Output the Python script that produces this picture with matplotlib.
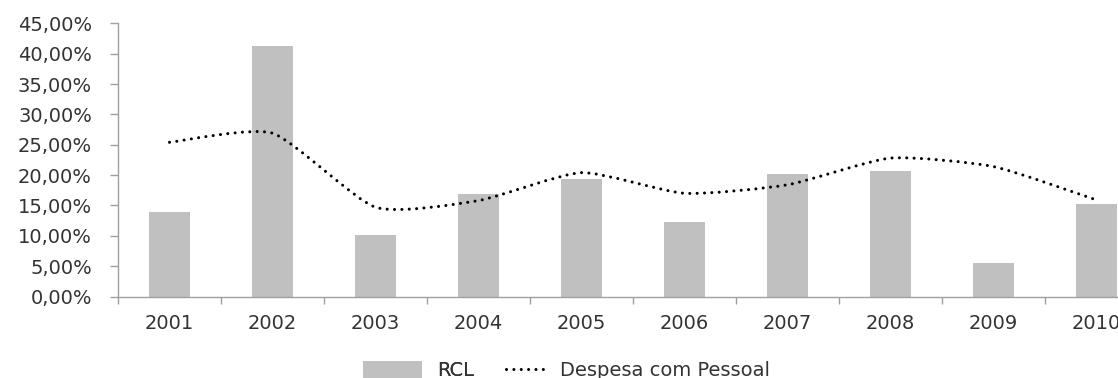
import matplotlib
matplotlib.use("Agg")
import matplotlib.pyplot as plt
from matplotlib.path import Path
from matplotlib.patches import PathPatch, Patch
from matplotlib.lines import Line2D
from matplotlib.ticker import FuncFormatter, FixedLocator, NullFormatter

plt.rcParams['font.family'] = ['DejaVu Sans']

# Annual growth rates (%)
years = ['2001', '2002', '2003', '2004', '2005', '2006', '2007', '2008', '2009', '2010']
rcl = [14.0, 41.2, 10.1, 16.9, 19.4, 12.2, 20.2, 20.7, 5.6, 15.2]
despesa_pessoal = [25.4, 26.9, 14.7, 15.8, 20.4, 17.0, 18.4, 22.8, 21.4, 15.9]

y_ticks = [0, 5, 10, 15, 20, 25, 30, 35, 40, 45]

BAR_COLOR = '#c0c0c0'
AXIS_COLOR = '#a0a0a0'
TEXT_COLOR = '#333333'
FS = 14

fig = plt.figure(figsize=(11.18, 3.78), dpi=100)
ax = fig.add_axes([118 / 1118, 81.5 / 378, 1030 / 1118, 273.2 / 378])

x = list(range(len(years)))
ax.bar(x, rcl, width=0.4, color=BAR_COLOR, zorder=2)


def smooth_path(xs, ys, tension=0.1):
    """Cubic Bezier path through the points with gently rounded corners."""
    n = len(xs)
    verts = [(xs[0], ys[0])]
    codes = [Path.MOVETO]
    for i in range(n - 1):
        i0 = max(i - 1, 0)
        i3 = min(i + 2, n - 1)
        c1 = (xs[i] + (xs[i + 1] - xs[i0]) * tension, ys[i] + (ys[i + 1] - ys[i0]) * tension)
        c2 = (xs[i + 1] - (xs[i3] - xs[i]) * tension, ys[i + 1] - (ys[i3] - ys[i]) * tension)
        verts += [c1, c2, (xs[i + 1], ys[i + 1])]
        codes += [Path.CURVE4] * 3
    return Path(verts, codes)


DOTS = (0, (0.01, 2.4))
line_patch = PathPatch(smooth_path(x, despesa_pessoal), fill=False, edgecolor='black',
                       linewidth=2.2, linestyle=DOTS, capstyle='round', zorder=3)
ax.add_patch(line_patch)

ax.set_xlim(-0.5, len(years) - 0.5)
ax.set_ylim(0, 45)

# category boundaries carry the tick marks, centres carry the labels
ax.xaxis.set_major_locator(FixedLocator([i - 0.5 for i in range(len(years) + 1)]))
ax.xaxis.set_major_formatter(NullFormatter())
ax.xaxis.set_minor_locator(FixedLocator(x))
ax.set_xticklabels(years, minor=True)
ax.tick_params(axis='x', which='major', direction='out', length=5, width=1, color=AXIS_COLOR)
ax.tick_params(axis='x', which='minor', length=0, pad=12.5, labelsize=FS, labelcolor=TEXT_COLOR)

ax.set_yticks(y_ticks)
ax.yaxis.set_major_formatter(FuncFormatter(lambda v, p: f"{v:.2f}".replace('.', ',') + '%'))
ax.tick_params(axis='y', direction='out', length=5.8, width=1, color=AXIS_COLOR,
               pad=13, labelsize=FS, labelcolor=TEXT_COLOR)

for side in ('top', 'right'):
    ax.spines[side].set_visible(False)
for side in ('left', 'bottom'):
    ax.spines[side].set_color(AXIS_COLOR)
    ax.spines[side].set_linewidth(1.0)

# legend entries along the bottom edge
leg1 = fig.legend(handles=[Patch(facecolor=BAR_COLOR, edgecolor='none', label='RCL')],
                  loc='center left', bbox_to_anchor=(363 / 1118, 7.5 / 378),
                  frameon=False, fontsize=FS, handlelength=3.05, handleheight=1.0,
                  handletextpad=0.75, borderpad=0, borderaxespad=0, labelcolor=TEXT_COLOR)
leg2 = fig.legend(handles=[Line2D([], [], color='black', linewidth=2.2, linestyle=DOTS,
                                  dash_capstyle='round', label='Despesa com Pessoal')],
                  loc='center left', bbox_to_anchor=(506 / 1118, 7.5 / 378),
                  frameon=False, fontsize=FS, handlelength=2.2,
                  handletextpad=0.6, borderpad=0, borderaxespad=0, labelcolor=TEXT_COLOR)
fig.add_artist(leg1)

fig.savefig('out.png', dpi=100)
